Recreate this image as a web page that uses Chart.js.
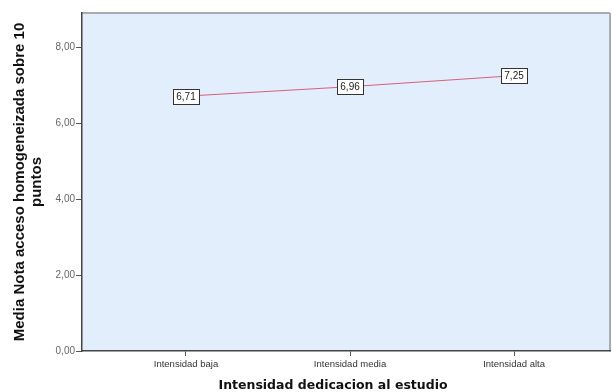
<!DOCTYPE html>
<html>
<head>
<meta charset="utf-8">
<script src="https://cdn.jsdelivr.net/npm/chart.js@4/dist/chart.umd.min.js"></script>
<style>
  html, body { margin: 0; padding: 0; background: #fff; }
  #wrap { width: 612px; height: 392px; }
</style>
</head>
<body>
<div id="wrap"><canvas id="grafico"></canvas></div>
<script>
const categorias = ['Intensidad baja', 'Intensidad media', 'Intensidad alta'];
const medias = [6.71, 6.96, 7.25];
const etiquetasY = ['0,00', '2,00', '4,00', '6,00', '8,00'];
const tituloX = 'Intensidad dedicacion al estudio';

const fondoPlot = {
    id: 'fondoPlot',
    beforeDraw(chart) {
        const { ctx, chartArea: a } = chart;
        ctx.save();
        ctx.fillStyle = '#e2eefb';
        ctx.fillRect(a.left, a.top, a.right - a.left, a.bottom - a.top);
        ctx.strokeStyle = '#a8acb2';
        ctx.lineWidth = 2;
        ctx.beginPath();
        ctx.moveTo(a.left, a.top);
        ctx.lineTo(a.right, a.top);
        ctx.moveTo(a.right, a.top);
        ctx.lineTo(a.right, a.bottom);
        ctx.stroke();
        ctx.restore();
    },
    afterDraw(chart) {
        // titulo del eje X, algo desplazado a la izquierda como en SPSS
        const { ctx } = chart;
        ctx.save();
        ctx.font = 'bold 12.5px "DejaVu Sans", sans-serif';
        ctx.fillStyle = '#111';
        ctx.textAlign = 'center';
        ctx.textBaseline = 'middle';
        ctx.fillText(tituloX, 333, 386);
        ctx.restore();
    }
};

const etiquetasPuntos = {
    id: 'etiquetasPuntos',
    afterDatasetsDraw(chart) {
        const { ctx } = chart;
        const meta = chart.getDatasetMeta(0);
        ctx.save();
        ctx.font = '10px "Liberation Sans", Arial, sans-serif';
        ctx.textAlign = 'center';
        ctx.textBaseline = 'middle';
        meta.data.forEach((p, i) => {
            const txt = medias[i].toFixed(2).replace('.', ',');
            const w = Math.round(ctx.measureText(txt).width + 7);
            const h = 15;
            const x0 = Math.round(p.x - w / 2), y0 = Math.round(p.y - h / 2);
            ctx.fillStyle = '#ffffff';
            ctx.fillRect(x0, y0, w, h);
            ctx.strokeStyle = '#333';
            ctx.lineWidth = 1;
            ctx.strokeRect(x0 + 0.5, y0 + 0.5, w, h);
            ctx.fillStyle = '#222';
            ctx.fillText(txt, p.x, p.y + 1);
        });
        ctx.restore();
    }
};

new Chart(document.getElementById('grafico'), {
    type: 'line',
    data: {
        datasets: [{
            data: medias.map((v, i) => ({ x: i, y: v })),
            borderColor: '#d9607a',
            borderWidth: 1,
            pointRadius: 0,
            tension: 0
        }]
    },
    plugins: [fondoPlot, etiquetasPuntos],
    options: {
        responsive: true,
        maintainAspectRatio: false,
        animation: false,
        layout: { padding: { left: 0, top: 13, right: 2, bottom: 0 } },
        plugins: { legend: { display: false }, tooltip: { enabled: false } },
        scales: {
            x: {
                type: 'linear',
                min: -0.634,
                max: 2.585,
                afterBuildTicks: s => { s.ticks = categorias.map((c, i) => ({ value: i })); },
                afterFit: s => { s.height = 41; },
                ticks: {
                    autoSkip: false,
                    maxRotation: 0,
                    padding: 3,
                    color: '#333',
                    font: { size: 9.5, family: '"Liberation Sans", Arial, sans-serif' },
                    callback: v => categorias[v]
                },
                grid: { drawOnChartArea: false, drawTicks: true, tickLength: 5, color: '#555' },
                border: { color: '#444', width: 1.5 },
                title: { display: false }
            },
            y: {
                min: 0,
                max: 8.9,
                afterBuildTicks: s => { s.ticks = etiquetasY.map((t, i) => ({ value: i * 2 })); },
                afterFit: s => { s.width = 82; },
                ticks: {
                    padding: 1,
                    color: '#666',
                    font: { size: 10, family: '"Liberation Sans", Arial, sans-serif' },
                    callback: (v) => etiquetasY[v / 2]
                },
                grid: { drawOnChartArea: false, drawTicks: true, tickLength: 6, color: '#555' },
                border: { color: '#444', width: 1.5 },
                title: {
                    display: true,
                    text: ['Media Nota acceso homogeneizada sobre 10', 'puntos'],
                    color: '#111',
                    padding: { top: 11, bottom: 0 },
                    font: { size: 15, weight: 'bold', family: '"Liberation Sans", Arial, sans-serif', lineHeight: 1.15 }
                }
            }
        }
    }
});
</script>
</body>
</html>
